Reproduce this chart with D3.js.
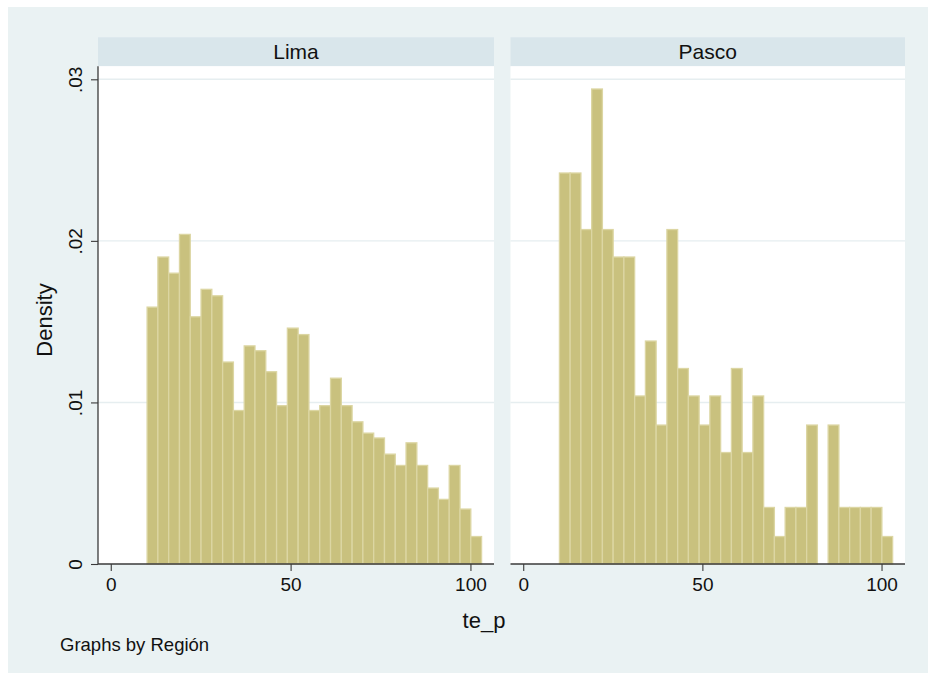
<!DOCTYPE html>
<html>
<head>
<meta charset="utf-8">
<script src="https://cdn.jsdelivr.net/npm/d3@7"></script>
<style>
  html, body { margin: 0; padding: 0; background: #ffffff; }
  svg { display: block; font-family: Arial, "Liberation Sans", Helvetica, sans-serif; }
</style>
</head>
<body>
<svg id="chart" width="928" height="673"></svg>
<script>
// Histogram of te_p by region (density scale), 31 equal-width bins
const regions = ["Lima", "Pasco"];
const binStart = 10.1;   // lower edge of the first bin
const binWidth = 3.0;    // width of every bin
const limaDensity = [
  0.0159, 0.0190, 0.0180, 0.0204, 0.0153, 0.0170, 0.0166, 0.0125, 0.0095, 0.0135,
  0.0132, 0.0119, 0.0098, 0.0146, 0.0142, 0.0095, 0.0098, 0.0115, 0.0098, 0.0088,
  0.0081, 0.0078, 0.0068, 0.0061, 0.0075, 0.0061, 0.0047, 0.0040, 0.0061, 0.0034,
  0.0017
];
const pascoDensity = [
  0.0242, 0.0242, 0.0207, 0.0294, 0.0207, 0.0190, 0.0190, 0.0104, 0.0138, 0.0086,
  0.0207, 0.0121, 0.0104, 0.0086, 0.0104, 0.0069, 0.0121, 0.0069, 0.0104, 0.0035,
  0.0017, 0.0035, 0.0035, 0.0086, 0.0000, 0.0086, 0.0035, 0.0035, 0.0035, 0.0035,
  0.0017
];
const xTicks = [0, 50, 100];
const yTicks = [0, 0.01, 0.02, 0.03];
const yTickLabels = ["0", ".01", ".02", ".03"];
const xTitle = "te_p";
const yTitle = "Density";
const note = "Graphs by Región";

const series = [limaDensity, pascoDensity];

const svg = d3.select("#chart");
const W = 928, H = 673;

// colours
const bgColor = "#eaf2f3";
const stripColor = "#d9e6eb";
const gridColor = "#e6eef0";
const barFill = "#c9c17e";
const barEdge = "#dcd6a3";
const axisColor = "#3a3a3a";

// graph region
svg.append("rect").attr("x", 8).attr("y", 7).attr("width", W - 8).attr("height", H - 7)
  .attr("fill", bgColor);

// panel geometry
const panels = [
  { x0: 98, x1: 494 },
  { x0: 510.5, x1: 905 }
];
const stripTop = 37.3, stripBottom = 66.2;
const plotTop = 66.2, plotBottom = 564;

const y = d3.scaleLinear().domain([0, 0.03]).range([plotBottom, 79.3]);

panels.forEach((p, i) => {
  const x = d3.scaleLinear().domain([-3.55, 106.55]).range([p.x0, p.x1]);
  const g = svg.append("g");

  // strip with region name
  g.append("rect").attr("x", p.x0).attr("y", stripTop)
    .attr("width", p.x1 - p.x0).attr("height", stripBottom - stripTop)
    .attr("fill", stripColor);
  g.append("text").attr("x", (p.x0 + p.x1) / 2).attr("y", 59)
    .attr("text-anchor", "middle").attr("font-size", 21).attr("fill", "#111")
    .text(regions[i]);

  // plot region
  g.append("rect").attr("x", p.x0).attr("y", plotTop)
    .attr("width", p.x1 - p.x0).attr("height", plotBottom - plotTop)
    .attr("fill", "#ffffff");

  // horizontal grid lines
  g.append("g").selectAll("line").data(yTicks.filter(d => d > 0)).join("line")
    .attr("x1", p.x0).attr("x2", p.x1)
    .attr("y1", d => y(d)).attr("y2", d => y(d))
    .attr("stroke", gridColor).attr("stroke-width", 1.4);

  // bars
  const bins = series[i].map((v, k) => ({
    lo: binStart + k * binWidth,
    hi: binStart + (k + 1) * binWidth,
    v
  }));
  g.append("g").selectAll("rect").data(bins.filter(b => b.v > 0)).join("rect")
    .attr("x", b => x(b.lo))
    .attr("width", b => x(b.hi) - x(b.lo))
    .attr("y", b => y(b.v))
    .attr("height", b => y(0) - y(b.v))
    .attr("fill", barFill)
    .attr("stroke", barEdge)
    .attr("stroke-width", 1.3);

  // x axis
  const xa = g.append("g").attr("transform", `translate(0,${plotBottom})`)
    .call(d3.axisBottom(x).tickValues(xTicks).tickFormat(d3.format("d"))
      .tickSize(7).tickPadding(7));
  xa.select(".domain").remove();
  xa.selectAll(".tick line").attr("stroke", axisColor).attr("stroke-width", 1.1);
  xa.selectAll(".tick text").attr("font-size", 19).attr("fill", "#111")
    .attr("font-family", "Arial, 'Liberation Sans', sans-serif");
  g.append("line").attr("x1", p.x0).attr("x2", p.x1)
    .attr("y1", plotBottom).attr("y2", plotBottom)
    .attr("stroke", axisColor).attr("stroke-width", 1.3);
});

// y axis on the first panel only
const ya = svg.append("g").attr("transform", `translate(${panels[0].x0},0)`)
  .call(d3.axisLeft(y).tickValues(yTicks).tickFormat((d, k) => yTickLabels[k])
    .tickSize(7).tickPadding(0));
ya.select(".domain").remove();
ya.selectAll(".tick line").attr("stroke", axisColor).attr("stroke-width", 1.1);
ya.selectAll(".tick text").remove();
ya.selectAll(".tick").append("text")
  .attr("transform", "translate(-16,0) rotate(-90)")
  .attr("text-anchor", "middle")
  .attr("font-size", 19).attr("fill", "#111")
  .attr("font-family", "Arial, 'Liberation Sans', sans-serif")
  .text((d, k) => yTickLabels[k]);
svg.append("line").attr("x1", panels[0].x0).attr("x2", panels[0].x0)
  .attr("y1", plotTop).attr("y2", plotBottom)
  .attr("stroke", axisColor).attr("stroke-width", 1.3);

// axis titles
svg.append("text").attr("transform", "translate(52,320) rotate(-90)")
  .attr("text-anchor", "middle").attr("font-size", 22).attr("fill", "#111")
  .text(yTitle);
svg.append("text").attr("x", 484).attr("y", 628)
  .attr("text-anchor", "middle").attr("font-size", 22).attr("fill", "#111")
  .text(xTitle);

// note
svg.append("text").attr("x", 60).attr("y", 651)
  .attr("font-size", 18.5).attr("fill", "#111")
  .text(note);
</script>
</body>
</html>
